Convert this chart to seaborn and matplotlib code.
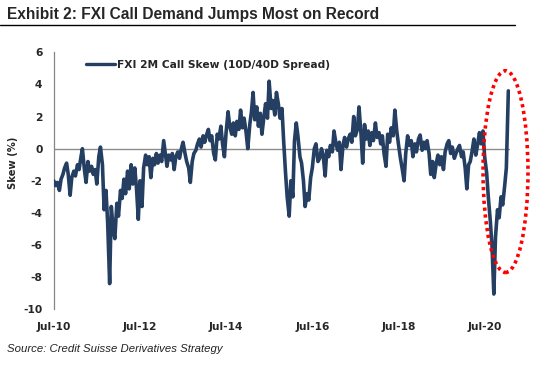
import matplotlib
matplotlib.use('Agg')
import matplotlib.pyplot as plt
import matplotlib.dates as mdates
from matplotlib.patches import Ellipse
from matplotlib.lines import Line2D
import seaborn as sns
import pandas as pd

# FXI 2M call skew (10D/40D spread), semi-monthly readings
start_date = '2010-07-15'
skew = [
    # Jul-10 .. Nov-12
    -2.0, -2.3, -2.1, -2.6, -1.9, -1.6, -1.2, -0.9, -1.6, -2.9,
    -1.8, -1.4, -1.7, -1.0, -1.3, -0.6, 0.0, -1.3, -2.1, -0.8,
    -1.4, -1.1, -1.6, -1.3, -2.2, -0.5, 0.1, -1.0, -3.8, -2.6,
    -4.6, -8.4, -3.6, -5.0, -5.6, -3.4, -4.2, -2.6, -3.1, -1.9,
    -2.8, -1.4, -2.5, -1.0, -2.2, -1.2, -2.4, -4.4, -2.0, -3.6,
    -1.2, -0.4, -1.0, -0.5, -1.8, -0.6, -1.0, -0.3, -0.9, -0.4,
    -0.8, 0.5, -0.3, -1.1, -0.4, -0.7, -0.3,
    # .. Jul-15
    -1.3, -0.5, -0.2, -0.6, 0.0, 0.4, -0.3, -0.8, -1.2, -2.1,
    -0.8, -0.3, -0.1, 0.3, 0.6, 0.1, 0.8, 0.4, 0.9, 1.2,
    0.5, 0.8, -0.3, -0.7, 0.9, 0.6, 1.4, 0.3, -0.5, 1.0,
    2.3, 1.4, 0.9, 1.6, 0.8, 1.7, 1.2, 2.4, 1.3, 1.9,
    1.0, 0.0, 1.5, 2.3, 3.5, 1.8, 2.6, 1.4, 2.2, 0.9,
    2.0, 2.8, 1.9, 4.2, 2.5, 3.0, 2.1, 3.5, 2.8, 1.9,
    2.5, 0.5,
    # .. Oct-18
    -1.5, -3.0, -4.2, -2.0, -3.0, 0.5, 1.6, 0.8, -0.5, -0.9,
    -2.0, -3.6, -2.8, -3.2, -1.8, -1.2, 0.0, 0.3, -0.8, -0.6,
    0.0, -0.4, -1.7, -0.1, -0.5, 0.2, -0.2, 1.1, 0.3, -0.1,
    0.4, -1.3, 0.2, 0.7, 0.1, 0.6, 0.9, 0.4, 2.0, 0.8,
    1.2, 2.6, 0.9, -0.9, 1.5, 0.6, 1.1, 0.2, 1.0, 0.5,
    1.6, 0.7, 1.0, 0.3, 0.8, -0.3, -1.1, 0.9, 0.4, 1.3,
    0.8, 2.4, 1.1, 0.3,
    # .. Feb-21
    -0.6, -1.2, -2.0, -0.3, 0.8, 0.2, 0.5, -0.5, 0.3, -0.2,
    0.6, 0.85, -0.1, 0.4, 0.0, 0.5, -0.3, -1.6, -0.8, -1.8,
    -0.9, -0.4, -1.0, -0.5, -1.3, -0.2, 0.3, 0.5, -0.3, 0.1,
    -0.6, -0.3, 0.0, 0.2, -0.5, -0.2, -1.2, -2.5, -1.0, -0.8,
    -0.1, 0.6, -0.4, 0.2, 1.0, 0.3, 1.1, -0.5, -1.5, -3.0,
    -4.5, -6.0, -9.05, -5.5, -3.8, -4.3, -3.0, -3.5, -2.3, -1.2,
    3.6,
]
series_name = 'FXI 2M Call Skew (10D/40D Spread)'
tick_dates = ['2010-07-15', '2012-07-15', '2014-07-15',
              '2016-07-15', '2018-07-15', '2020-07-15']
tick_labels = ['Jul-10', 'Jul-12', 'Jul-14', 'Jul-16', 'Jul-18', 'Jul-20']
y_ticks = [6, 4, 2, 0, -2, -4, -6, -8, -10]

df = pd.DataFrame({
    'date': pd.date_range(start_date, periods=len(skew), freq='SMS'),
    'skew': skew,
})

sns.set_style('white')
plt.rcParams['font.family'] = ['DejaVu Sans']

fig = plt.figure(figsize=(5.5, 3.68), dpi=100)
ax = fig.add_axes([53.5 / 550, 1 - 309.3 / 368, (510 - 53.5) / 550, 257 / 368])

navy = '#253f63'
ax.axhline(0, color='#8c8c8c', lw=1.0, zorder=1)
sns.lineplot(data=df, x='date', y='skew', ax=ax, color=navy, lw=2.6,
             label=series_name, zorder=3)

ax.set_xlim(pd.Timestamp('2010-07-13'), pd.Timestamp('2021-02-15'))
ax.set_ylim(-10, 6)
ax.set_yticks(y_ticks)
ax.set_yticklabels([str(v) for v in y_ticks], fontweight='bold', fontsize=7.7)
ax.set_xticks(pd.to_datetime(tick_dates))
ax.set_xticklabels(tick_labels, fontweight='bold', fontsize=7.7)
ax.tick_params(axis='x', length=0, pad=9)
ax.tick_params(axis='y', length=4, width=0.8, color='#868686', direction='out', pad=4)
ax.set_xlabel('')
ax.set_ylabel('Skew (%)', fontweight='bold', fontsize=7.2, labelpad=6)
ax.yaxis.set_label_coords(-0.078, 0.57)

for side in ['top', 'right', 'bottom']:
    ax.spines[side].set_visible(False)
ax.spines['left'].set_color('#868686')
ax.spines['left'].set_linewidth(0.9)

leg = ax.legend(loc='center left', bbox_to_anchor=(0.062, 0.95), frameon=False,
                handlelength=2.7, handletextpad=0.15, borderaxespad=0,
                prop={'weight': 'bold', 'size': 7.7})
for line in leg.get_lines():
    line.set_linewidth(2.4)

# red dotted ring around the 2020 spike
ell = Ellipse((mdates.date2num(pd.Timestamp('2021-01-08')), -1.43),
              width=381, height=12.56, fill=False, edgecolor='#ff0000',
              lw=2.6, linestyle=(0, (0.9, 1.0)), zorder=4, clip_on=False)
ax.add_patch(ell)

fig.text(7 / 550, 1 - 14 / 368, 'Exhibit 2: FXI Call Demand Jumps Most on Record',
         fontsize=11.2, fontweight='bold', family='Liberation Sans', va='center')
fig.add_artist(Line2D([0, 515 / 550], [1 - 24.5 / 368] * 2, color='black', lw=1.0))
fig.text(7 / 550, 1 - 349 / 368, 'Source: Credit Suisse Derivatives Strategy',
         fontsize=8.2, style='italic', family='Liberation Sans', va='center',
         color='#222222')

plt.savefig('out.png', dpi=100)
plt.close()
